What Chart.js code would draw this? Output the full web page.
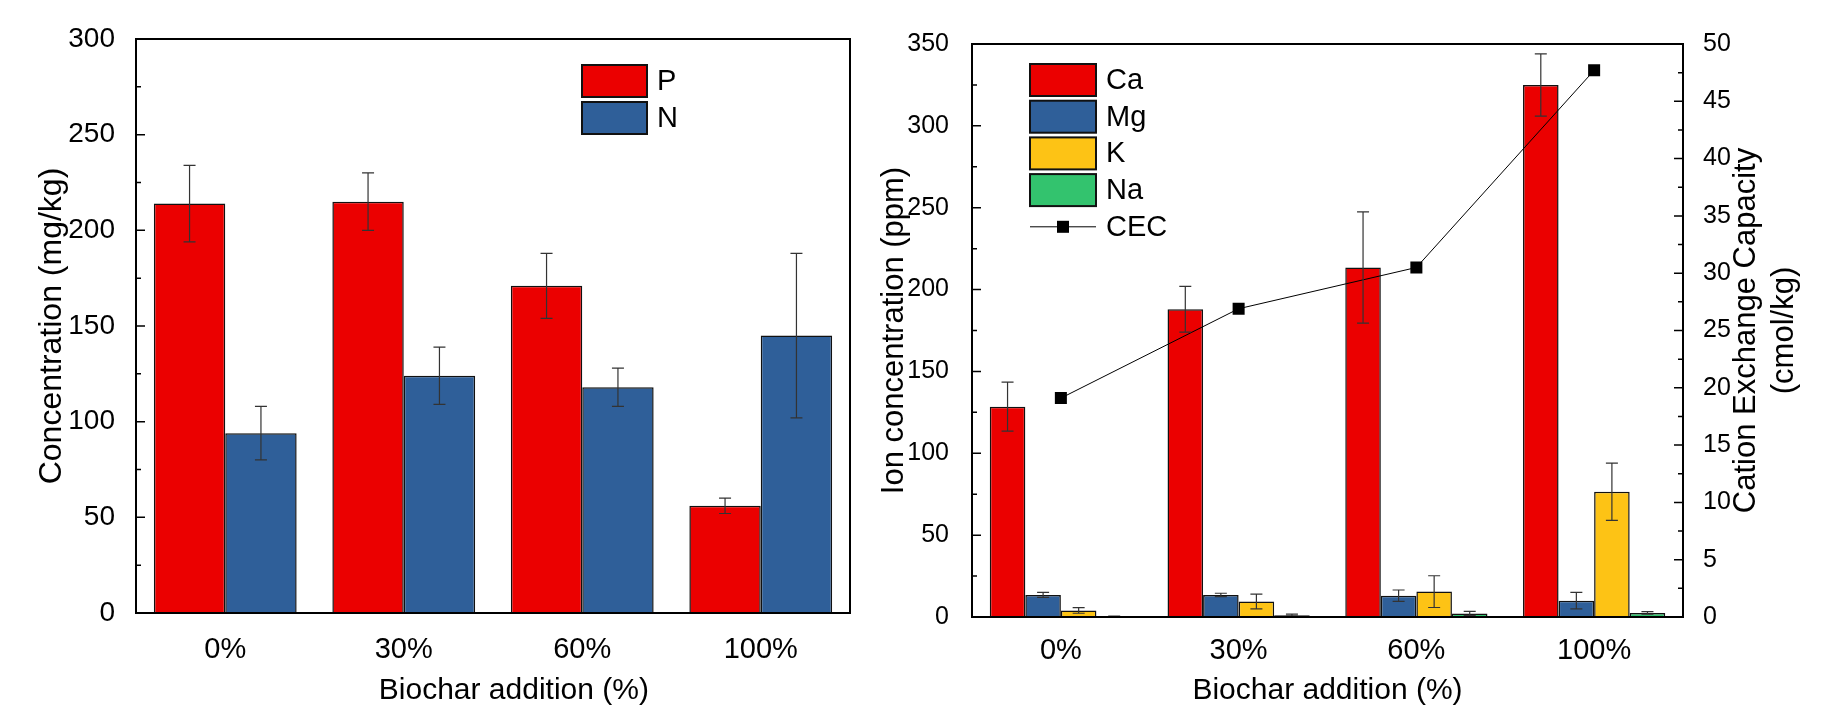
<!DOCTYPE html>
<html>
<head>
<meta charset="utf-8">
<script src="https://cdn.jsdelivr.net/npm/chart.js@4.4.1/dist/chart.umd.min.js"></script>
<style>
    body { margin: 0; background: #fff; }
    #wrap { position: relative; width: 1838px; height: 706px; }
    #leftChart { position: absolute; left: 0; top: 0; }
    #rightChart { position: absolute; left: 870px; top: 0; }
</style>
</head>
<body>
<div id="wrap">
    <canvas id="leftChart" width="870" height="706"></canvas>
    <canvas id="rightChart" width="968" height="706"></canvas>
</div>
<script>
// Biochar addition: nutrients (left) and cations + CEC (right)

const categories = ['0%', '30%', '60%', '100%'];

// left panel, mg/kg
const pValues = [214, 215, 171, 56];
const pErrors = [20, 15, 17, 4];
const nValues = [94, 124, 118, 145];
const nErrors = [14, 15, 10, 43];
const concTicks = [0, 50, 100, 150, 200, 250, 300];

// right panel, ppm
const caValues = [128.5, 188, 213.5, 325];
const caErrors = [15, 14, 34, 19];
const mgValues = [13.5, 13.5, 13, 10];
const mgErrors = [1.5, 1, 3.5, 5];
const kValues = [4, 9.5, 15.5, 76.5];
const kErrors = [1.7, 4.5, 9.7, 17.5];
const naValues = [0.4, 1.1, 2.2, 2.5];
const naErrors = [0.2, 0.6, 1.2, 0.8];
const ionTicks = [0, 50, 100, 150, 200, 250, 300, 350];

// cmol/kg
const cecValues = [19.1, 26.9, 30.5, 47.7];
const cecTicks = [0, 5, 10, 15, 20, 25, 30, 35, 40, 45, 50];

const RED = '#EB0000';
const BLUE = '#2F5F99';
const YELLOW = '#FDC315';
const GREEN = '#33C36E';
const FONT = '"Liberation Sans", Arial, sans-serif';

const errorBars = {
    id: 'errorBars',
    afterDatasetsDraw(chart) {
        const ctx = chart.ctx;
        chart.data.datasets.forEach((ds, i) => {
            if (!ds.errors) return;
            const meta = chart.getDatasetMeta(i);
            const yScale = chart.scales[meta.yAxisID];
            ctx.save();
            ctx.strokeStyle = '#333';
            ctx.lineWidth = 1.2;
            meta.data.forEach((bar, j) => {
                const v = ds.data[j];
                const e = ds.errors[j];
                const yTop = yScale.getPixelForValue(v + e);
                const yBot = yScale.getPixelForValue(v - e);
                const x = bar.x;
                ctx.beginPath();
                ctx.moveTo(x, yTop);
                ctx.lineTo(x, yBot);
                ctx.moveTo(x - 6, yTop);
                ctx.lineTo(x + 6, yTop);
                ctx.moveTo(x - 6, yBot);
                ctx.lineTo(x + 6, yBot);
                ctx.stroke();
            });
            ctx.restore();
        });
    }
};

// box round the plot, inward ticks on the y axes
const frame = {
    id: 'frame',
    afterDraw(chart) {
        const ctx = chart.ctx;
        const a = chart.chartArea;
        ctx.save();
        ctx.strokeStyle = '#000';
        ctx.lineWidth = 2;
        ctx.strokeRect(a.left, a.top, a.right - a.left, a.bottom - a.top);
        ctx.lineWidth = 1.5;
        Object.values(chart.scales).forEach(scale => {
            if (scale.axis !== 'y') return;
            const dir = scale.position === 'left' ? 1 : -1;
            const x0 = scale.position === 'left' ? a.left : a.right;
            const vals = scale.ticks.map(t => t.value);
            ctx.beginPath();
            vals.forEach((v, k) => {
                const y = scale.getPixelForValue(v);
                ctx.moveTo(x0, y);
                ctx.lineTo(x0 + dir * 9, y);
                if (k < vals.length - 1) {
                    const ym = scale.getPixelForValue((v + vals[k + 1]) / 2);
                    ctx.moveTo(x0, ym);
                    ctx.lineTo(x0 + dir * 5, ym);
                }
            });
            ctx.stroke();
        });
        ctx.restore();
    }
};

const boxLegend = {
    id: 'boxLegend',
    afterDraw(chart, args, opts) {
        const ctx = chart.ctx;
        ctx.save();
        ctx.font = '29px ' + FONT;
        ctx.textBaseline = 'middle';
        ctx.fillStyle = '#000';
        chart.data.datasets.forEach((ds, i) => {
            const y = opts.y + i * opts.step;
            const cy = y + opts.h / 2;
            if (ds.type === 'line') {
                ctx.strokeStyle = '#000';
                ctx.lineWidth = 1;
                ctx.beginPath();
                ctx.moveTo(opts.x, cy);
                ctx.lineTo(opts.x + opts.w, cy);
                ctx.stroke();
                ctx.fillRect(opts.x + opts.w / 2 - 6, cy - 6, 12, 12);
            } else {
                ctx.fillStyle = ds.backgroundColor;
                ctx.fillRect(opts.x, y, opts.w, opts.h);
                ctx.strokeStyle = '#111';
                ctx.lineWidth = 2;
                ctx.strokeRect(opts.x, y, opts.w, opts.h);
            }
            ctx.fillStyle = '#000';
            ctx.fillText(ds.label, opts.x + opts.w + 10, cy + 1);
        });
        ctx.restore();
    }
};

// right axis title reads upward, so it is drawn here
const rightTitle = {
    id: 'rightTitle',
    afterDraw(chart, args, opts) {
        const ctx = chart.ctx;
        const a = chart.chartArea;
        const cy = (a.top + a.bottom) / 2;
        ctx.save();
        ctx.font = '31px ' + FONT;
        ctx.fillStyle = '#000';
        ctx.textAlign = 'center';
        ctx.textBaseline = 'middle';
        opts.lines.forEach((line, k) => {
            ctx.save();
            ctx.translate(opts.x + k * 38, cy);
            ctx.rotate(-Math.PI / 2);
            ctx.fillText(line, 0, 0);
            ctx.restore();
        });
        ctx.restore();
    }
};

function barSet(label, data, errors, color, axis) {
    return {
        type: 'bar',
        label: label,
        data: data,
        errors: errors,
        backgroundColor: color,
        borderColor: '#111',
        borderWidth: 1.5,
        categoryPercentage: 0.8,
        barPercentage: 1.0,
        yAxisID: axis,
        order: 1
    };
}

function tickFont(size, lh) {
    return { family: FONT, size: size, lineHeight: lh || 1.2 };
}

new Chart(document.getElementById('leftChart'), {
    type: 'bar',
    data: {
        labels: categories,
        datasets: [
            barSet('P', pValues, pErrors, RED, 'y'),
            barSet('N', nValues, nErrors, BLUE, 'y')
        ]
    },
    options: {
        responsive: false,
        animation: false,
        layout: { padding: { top: 39, right: 20, left: 0, bottom: 0 } },
        plugins: {
            legend: { display: false },
            tooltip: { enabled: false },
            boxLegend: { x: 582, y: 65, step: 37, w: 65, h: 32 }
        },
        scales: {
            x: {
                grid: { display: false },
                border: { display: false },
                ticks: { font: tickFont(29), color: '#000', padding: 12 },
                title: { display: true, text: '     Biochar addition (%)', font: tickFont(30, 1.0), color: '#000', padding: 0 },
                afterFit(scale) { scale.height = 93; }
            },
            y: {
                min: 0,
                max: 300,
                grid: { display: false },
                border: { display: false },
                afterBuildTicks(scale) { scale.ticks = concTicks.map(v => ({ value: v })); },
                ticks: { font: tickFont(28), color: '#000', padding: 13 },
                title: { display: true, text: 'Concentration (mg/kg)', font: tickFont(32, 1.0), color: '#000', padding: { top: 36, bottom: 0 } },
                afterFit(scale) { scale.width = 136; }
            }
        }
    },
    plugins: [errorBars, frame, boxLegend]
});

new Chart(document.getElementById('rightChart'), {
    type: 'bar',
    data: {
        labels: categories,
        datasets: [
            barSet('Ca', caValues, caErrors, RED, 'y'),
            barSet('Mg', mgValues, mgErrors, BLUE, 'y'),
            barSet('K', kValues, kErrors, YELLOW, 'y'),
            barSet('Na', naValues, naErrors, GREEN, 'y'),
            {
                type: 'line',
                label: 'CEC',
                data: cecValues,
                yAxisID: 'y1',
                borderColor: '#000',
                borderWidth: 1,
                backgroundColor: '#000',
                pointStyle: 'rect',
                pointRadius: 8.5,
                pointBorderWidth: 0,
                order: 0
            }
        ]
    },
    options: {
        responsive: false,
        animation: false,
        layout: { padding: { top: 44, right: 0, left: 0, bottom: 0 } },
        plugins: {
            legend: { display: false },
            tooltip: { enabled: false },
            boxLegend: { x: 160, y: 64, step: 36.7, w: 66, h: 32 },
            rightTitle: { x: 876, lines: ['Cation Exchange Capacity', '(cmol/kg)'] }
        },
        scales: {
            x: {
                grid: { display: false },
                border: { display: false },
                ticks: { font: tickFont(29), color: '#000', padding: 9 },
                title: { display: true, text: 'Biochar addition (%)', font: tickFont(30, 1.0), color: '#000', padding: 0 },
                afterFit(scale) { scale.height = 89; }
            },
            y: {
                position: 'left',
                min: 0,
                max: 350,
                grid: { display: false },
                border: { display: false },
                afterBuildTicks(scale) { scale.ticks = ionTicks.map(v => ({ value: v })); },
                ticks: { font: tickFont(25), color: '#000', padding: 15 },
                title: { display: true, text: 'Ion concentration (ppm)', font: tickFont(31, 1.0), color: '#000', padding: { top: 9, bottom: 0 } },
                afterFit(scale) { scale.width = 102; }
            },
            y1: {
                position: 'right',
                min: 0,
                max: 50,
                grid: { display: false },
                border: { display: false },
                afterBuildTicks(scale) { scale.ticks = cecTicks.map(v => ({ value: v })); },
                ticks: { font: tickFont(25), color: '#000', padding: 12 },
                afterFit(scale) { scale.width = 155; }
            }
        }
    },
    plugins: [errorBars, frame, boxLegend, rightTitle]
});
</script>
</body>
</html>
